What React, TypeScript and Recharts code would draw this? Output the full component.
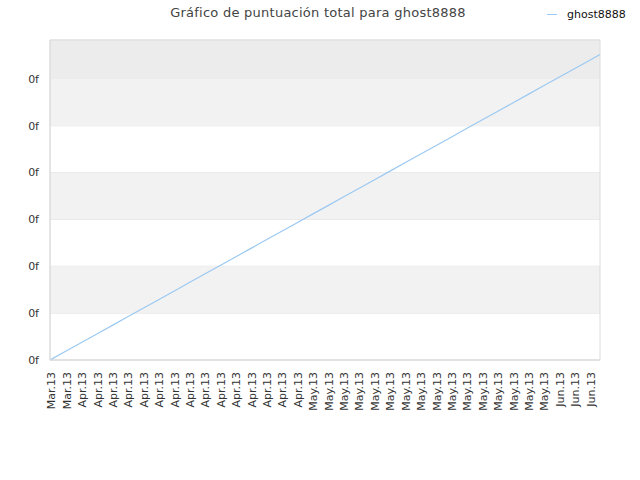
import { CartesianGrid, Line, LineChart, ReferenceArea, XAxis, YAxis } from 'recharts';

// score snapshots (UTC)
const sampleTimes = [
  '2013-03-27T19:00', '2013-03-28T00:00', '2013-03-30T00:00',
  '2013-04-01T00:00', '2013-04-03T00:00', '2013-04-05T00:00', '2013-04-07T00:00',
  '2013-04-09T00:00', '2013-04-11T00:00', '2013-04-13T00:00', '2013-04-15T00:00',
  '2013-04-17T00:00', '2013-04-19T00:00', '2013-04-21T00:00', '2013-04-23T00:00',
  '2013-04-25T00:00', '2013-04-27T00:00', '2013-04-29T00:00',
  '2013-05-01T00:00', '2013-05-03T00:00', '2013-05-05T00:00', '2013-05-07T00:00',
  '2013-05-09T00:00', '2013-05-11T00:00', '2013-05-13T00:00', '2013-05-15T00:00',
  '2013-05-17T00:00', '2013-05-19T00:00', '2013-05-21T00:00', '2013-05-23T00:00',
  '2013-05-25T00:00', '2013-05-27T00:00', '2013-05-29T00:00', '2013-05-31T00:00',
  '2013-06-02T00:00', '2013-06-04T00:00', '2013-06-06T00:00', '2013-06-07T05:00',
];

const scores = [
  0, 0.019, 0.202,
  0.384, 0.567, 0.75, 0.932,
  1.115, 1.297, 1.48, 1.663,
  1.845, 2.028, 2.21, 2.393,
  2.576, 2.758, 2.941,
  3.124, 3.306, 3.489, 3.671,
  3.854, 4.037, 4.219, 4.402,
  4.584, 4.767, 4.95, 5.132,
  5.315, 5.497, 5.68, 5.863,
  6.045, 6.228, 6.41, 6.52,
];

const tickDates = [
  '2013-03-28', '2013-03-30',
  '2013-04-01', '2013-04-03', '2013-04-05', '2013-04-07', '2013-04-09', '2013-04-11',
  '2013-04-13', '2013-04-15', '2013-04-17', '2013-04-19', '2013-04-21', '2013-04-23',
  '2013-04-25', '2013-04-27', '2013-04-29',
  '2013-05-01', '2013-05-03', '2013-05-05', '2013-05-07', '2013-05-09', '2013-05-11',
  '2013-05-13', '2013-05-15', '2013-05-17', '2013-05-19', '2013-05-21', '2013-05-23',
  '2013-05-25', '2013-05-27', '2013-05-29', '2013-05-31',
  '2013-06-02', '2013-06-04', '2013-06-06',
];

const monthNames = ['Jan', 'Feb', 'Mar', 'Apr', 'May', 'Jun', 'Jul', 'Aug', 'Sep', 'Oct', 'Nov', 'Dec'];

const yTicks = [0, 1, 2, 3, 4, 5, 6];
const yMax = 6.83;

const toTs = (s: string) => Date.parse(s.length > 10 ? `${s}:00Z` : `${s}T00:00:00Z`);

const data = sampleTimes.map((t, i) => ({ t: toTs(t), score: scores[i] }));
const xTicks = tickDates.map(toTs);

const formatMonth = (ts: number) => {
  const d = new Date(ts);
  return `${monthNames[d.getUTCMonth()]}.${String(d.getUTCFullYear()).slice(2)}`;
};

const font = '"DejaVu Sans", sans-serif';

function MonthTick({ x, y, payload }: any) {
  return (
    <text
      x={x}
      y={y}
      transform={`rotate(-90, ${x}, ${y})`}
      textAnchor="end"
      dy="0.35em"
      fontSize={11}
      fill="#333"
      fontFamily={font}
    >
      {formatMonth(payload.value)}
    </text>
  );
}

export default function App() {
  return (
    <div
      style={{
        position: 'absolute',
        left: 0,
        top: 0,
        width: 640,
        height: 480,
        background: '#fff',
        fontFamily: font,
      }}
    >
      <div
        style={{
          position: 'absolute',
          top: 5,
          left: 0,
          width: 636,
          textAlign: 'center',
          fontSize: 13,
          letterSpacing: 0.25,
          color: '#444',
        }}
      >
        Gráfico de puntuación total para ghost8888
      </div>
      <div
        style={{
          position: 'absolute',
          top: 8,
          left: 547,
          display: 'flex',
          alignItems: 'center',
          fontSize: 11,
          color: '#111',
        }}
      >
        <span style={{ display: 'inline-block', width: 10, height: 1.5, background: '#9cc9f2', marginRight: 10 }} />
        ghost8888
      </div>
      <LineChart
        width={640}
        height={480}
        data={data}
        margin={{ top: 40, right: 40, bottom: 0, left: 0 }}
      >
        <ReferenceArea y1={1} y2={2} fill="#f2f2f2" fillOpacity={1} strokeOpacity={0} />
        <ReferenceArea y1={3} y2={4} fill="#f2f2f2" fillOpacity={1} strokeOpacity={0} />
        <ReferenceArea y1={5} y2={6} fill="#f2f2f2" fillOpacity={1} strokeOpacity={0} />
        <ReferenceArea y1={6} y2={yMax} fill="#ececec" fillOpacity={1} strokeOpacity={0} />
        <CartesianGrid vertical={false} stroke="#e2e2e2" />
        <ReferenceArea y1={0} y2={yMax} fill="none" stroke="#dcdcdc" />
        <XAxis
          dataKey="t"
          type="number"
          domain={['dataMin', 'dataMax']}
          ticks={xTicks}
          interval={0}
          height={120}
          tickLine={false}
          tickSize={0}
          tickMargin={12}
          axisLine={{ stroke: '#dcdcdc' }}
          tick={<MonthTick />}
        />
        <YAxis
          domain={[0, yMax]}
          ticks={yTicks}
          width={50}
          tickLine={false}
          tickSize={0}
          tickMargin={11}
          axisLine={{ stroke: '#dcdcdc' }}
          tickFormatter={() => '0f'}
          tick={{ fontSize: 11, fill: '#333', fontFamily: font }}
        />
        <Line
          type="linear"
          dataKey="score"
          stroke="#9cc9f2"
          strokeWidth={1.2}
          dot={false}
          isAnimationActive={false}
        />
      </LineChart>
    </div>
  );
}
